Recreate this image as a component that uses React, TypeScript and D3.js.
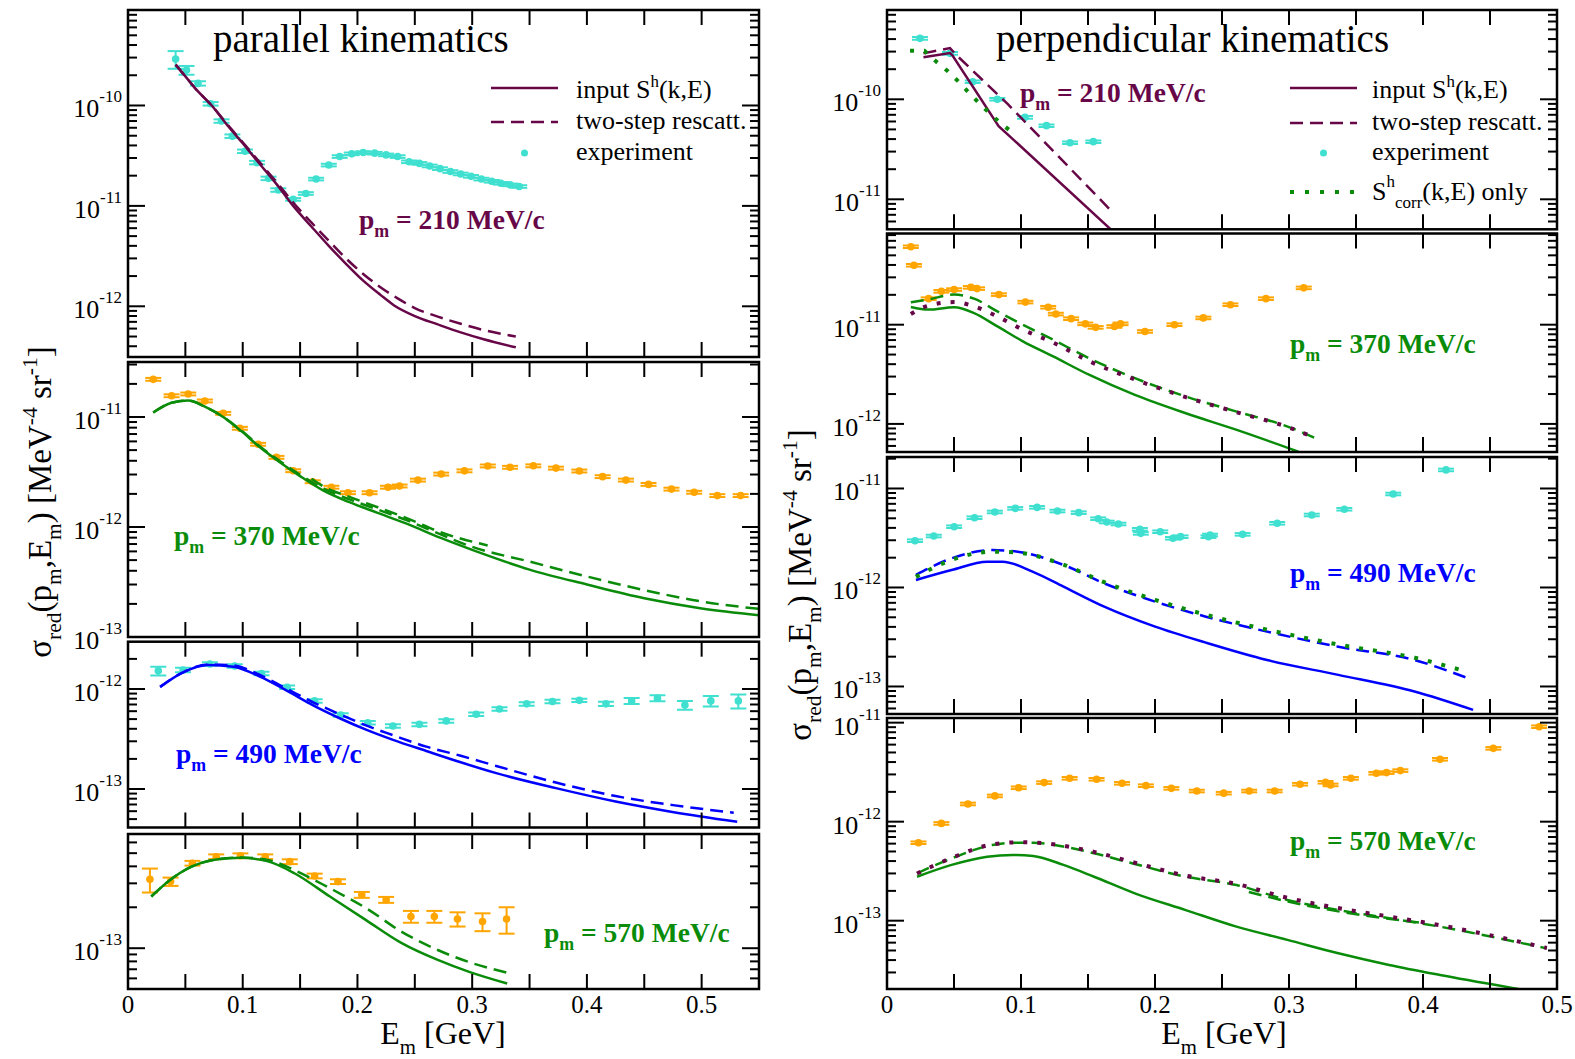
import React from "react";
import * as d3 from "d3";

const FONT = "'Liberation Serif', 'Times New Roman', serif";
const MAROON = "#670748";
const GREEN = "#0a8c0a";
const BLUE = "#0000ff";
const ORANGE = "#ffa500";
const TURQ = "#40e0d0";

type P = [number, number];
type EP = [number, number, number];

// ---------- parallel kinematics ----------
const par210Exp: EP[] = [
  [0.0415, 2.9e-10, 0.2], [0.051, 2.25e-10, 0.1], [0.061, 1.66e-10, 0.05], [0.072, 1.04e-10, 0.04],
  [0.0815, 7.0e-11, 0.04], [0.091, 4.95e-11, 0.04], [0.102, 3.5e-11, 0.04], [0.1125, 2.7e-11, 0.04],
  [0.1225, 1.88e-11, 0.04], [0.131, 1.44e-11, 0.04], [0.144, 1.16e-11, 0.03], [0.155, 1.33e-11, 0.03],
  [0.164, 1.85e-11, 0.03], [0.175, 2.55e-11, 0.03], [0.1845, 3.1e-11, 0.03], [0.195, 3.3e-11, 0.03],
  [0.205, 3.4e-11, 0.03], [0.215, 3.35e-11, 0.03], [0.225, 3.22e-11, 0.03], [0.235, 3.1e-11, 0.03],
  [0.245, 2.75e-11, 0.03], [0.254, 2.65e-11, 0.03], [0.263, 2.5e-11, 0.03], [0.272, 2.35e-11, 0.03],
  [0.281, 2.2e-11, 0.03], [0.29, 2.08e-11, 0.03], [0.299, 1.97e-11, 0.03], [0.308, 1.85e-11, 0.03],
  [0.317, 1.76e-11, 0.03], [0.325, 1.68e-11, 0.03], [0.333, 1.62e-11, 0.03], [0.341, 1.56e-11, 0.03],
];
const par210Solid: P[] = [
  [0.0415, 2.55e-10], [0.05, 1.95e-10], [0.06, 1.42e-10], [0.073, 1.0e-10], [0.085, 6.7e-11], [0.1, 4.2e-11],
  [0.115, 2.6e-11], [0.13, 1.62e-11], [0.144, 1.0e-11], [0.16, 6.2e-12], [0.175, 4.0e-12], [0.19, 2.65e-12],
  [0.205, 1.8e-12], [0.22, 1.3e-12], [0.232, 1.02e-12], [0.25, 8.0e-13], [0.27, 6.6e-13], [0.29, 5.5e-13],
  [0.31, 4.7e-13], [0.338, 3.9e-13],
];
const par210Dash: P[] = [
  [0.0415, 2.55e-10], [0.05, 1.95e-10], [0.06, 1.42e-10], [0.073, 1.0e-10], [0.085, 6.8e-11], [0.1, 4.3e-11],
  [0.115, 2.7e-11], [0.13, 1.7e-11], [0.144, 1.08e-11], [0.16, 6.8e-12], [0.175, 4.5e-12], [0.19, 3.0e-12],
  [0.205, 2.1e-12], [0.22, 1.55e-12], [0.235, 1.2e-12], [0.25, 9.6e-13], [0.27, 7.9e-13], [0.29, 6.7e-13],
  [0.31, 5.8e-13], [0.338, 5.0e-13],
];

const par370Exp: EP[] = [
  [0.022, 2.2e-11, 0.03], [0.038, 1.56e-11, 0.03], [0.0525, 1.62e-11, 0.03], [0.067, 1.4e-11, 0.03],
  [0.083, 1.08e-11, 0.03], [0.0975, 7.9e-12, 0.03], [0.1134, 5.65e-12, 0.03], [0.1294, 4.3e-12, 0.03],
  [0.144, 3.25e-12, 0.03], [0.161, 2.58e-12, 0.03], [0.1773, 2.3e-12, 0.03], [0.1917, 2.05e-12, 0.03],
  [0.2106, 2.05e-12, 0.03], [0.2266, 2.3e-12, 0.03], [0.2367, 2.36e-12, 0.03], [0.2527, 2.67e-12, 0.03],
  [0.273, 3.03e-12, 0.03], [0.2933, 3.24e-12, 0.03], [0.3136, 3.59e-12, 0.03], [0.333, 3.49e-12, 0.03],
  [0.3533, 3.6e-12, 0.03], [0.373, 3.43e-12, 0.03], [0.3934, 3.23e-12, 0.03], [0.4137, 2.87e-12, 0.03],
  [0.434, 2.67e-12, 0.03], [0.4537, 2.44e-12, 0.03], [0.4737, 2.21e-12, 0.03], [0.4935, 2.07e-12, 0.03],
  [0.5137, 1.93e-12, 0.03], [0.534, 1.93e-12, 0.03],
];
const par370Solid: P[] = [
  [0.022, 1.1e-11], [0.038, 1.35e-11], [0.0525, 1.41e-11], [0.067, 1.24e-11], [0.083, 1.0e-11], [0.099, 7.4e-12],
  [0.115, 5.3e-12], [0.132, 3.9e-12], [0.15, 2.9e-12], [0.17, 2.15e-12], [0.193, 1.68e-12], [0.217, 1.35e-12],
  [0.245, 1.05e-12], [0.272, 8.0e-13], [0.3, 6.2e-13], [0.35, 4.1e-13], [0.4, 3.0e-13], [0.45, 2.25e-13],
  [0.5, 1.82e-13], [0.55, 1.58e-13],
];
const par370Dash: P[] = [
  [0.022, 1.1e-11], [0.038, 1.35e-11], [0.0525, 1.41e-11], [0.067, 1.24e-11], [0.083, 1.0e-11], [0.099, 7.5e-12],
  [0.115, 5.4e-12], [0.132, 4.0e-12], [0.15, 2.98e-12], [0.17, 2.25e-12], [0.193, 1.78e-12], [0.217, 1.45e-12],
  [0.245, 1.13e-12], [0.272, 8.6e-13], [0.3, 6.6e-13], [0.35, 4.85e-13], [0.4, 3.55e-13], [0.45, 2.67e-13],
  [0.5, 2.1e-13], [0.55, 1.8e-13],
];
const par370Dash2: P[] = [
  [0.16, 2.75e-12], [0.17, 2.35e-12], [0.193, 1.88e-12], [0.217, 1.52e-12], [0.245, 1.18e-12], [0.272, 9.0e-13],
  [0.3135, 6.8e-13],
];

const par490Exp: EP[] = [
  [0.0264, 1.52e-12, 0.1], [0.048, 1.55e-12, 0.05], [0.0714, 1.78e-12, 0.04], [0.093, 1.7e-12, 0.04],
  [0.1164, 1.43e-12, 0.04], [0.1387, 1.04e-12, 0.04], [0.1627, 7.6e-13, 0.04], [0.1854, 5.5e-13, 0.04],
  [0.209, 4.6e-13, 0.04], [0.2309, 4.26e-13, 0.04], [0.254, 4.43e-13, 0.04], [0.2774, 4.8e-13, 0.04],
  [0.3035, 5.6e-13, 0.04], [0.3238, 6.3e-13, 0.04], [0.3475, 7.1e-13, 0.04], [0.37, 7.5e-13, 0.04],
  [0.3934, 7.7e-13, 0.04], [0.4166, 7.1e-13, 0.05], [0.439, 7.6e-13, 0.07], [0.4615, 8.1e-13, 0.07],
  [0.4854, 6.9e-13, 0.1], [0.508, 7.6e-13, 0.12], [0.532, 7.6e-13, 0.16],
];
const par490Solid: P[] = [
  [0.028, 1.05e-12], [0.048, 1.47e-12], [0.07, 1.74e-12], [0.092, 1.67e-12], [0.115, 1.33e-12], [0.138, 9.7e-13],
  [0.161, 6.9e-13], [0.1845, 5.1e-13], [0.208, 3.9e-13], [0.231, 3.1e-13], [0.26, 2.4e-13], [0.29, 1.85e-13],
  [0.321, 1.44e-13], [0.373, 1.02e-13], [0.425, 7.5e-14], [0.4745, 5.9e-14], [0.531, 4.7e-14],
];
const par490Dash: P[] = [
  [0.028, 1.05e-12], [0.048, 1.47e-12], [0.07, 1.76e-12], [0.092, 1.72e-12], [0.115, 1.38e-12], [0.138, 1.01e-12],
  [0.161, 7.4e-13], [0.1845, 5.6e-13], [0.208, 4.3e-13], [0.231, 3.45e-13], [0.26, 2.65e-13], [0.29, 2.15e-13],
  [0.321, 1.7e-13], [0.373, 1.16e-13], [0.425, 8.5e-14], [0.475, 6.9e-14], [0.528, 5.8e-14],
];

const par570Exp: EP[] = [
  [0.0191, 3.21e-13, 0.2], [0.0371, 3.09e-13, 0.07], [0.0562, 4.22e-13, 0.04], [0.0769, 4.71e-13, 0.04],
  [0.098, 4.79e-13, 0.04], [0.1196, 4.71e-13, 0.04], [0.141, 4.33e-13, 0.04], [0.1627, 3.4e-13, 0.04],
  [0.183, 3.09e-13, 0.04], [0.2038, 2.47e-13, 0.05], [0.225, 2.27e-13, 0.05], [0.2466, 1.71e-13, 0.1],
  [0.267, 1.71e-13, 0.1], [0.2872, 1.64e-13, 0.12], [0.309, 1.57e-13, 0.15], [0.33, 1.64e-13, 0.22],
];
const par570Solid: P[] = [
  [0.0203, 2.4e-13], [0.035, 3.1e-13], [0.0554, 3.98e-13], [0.077, 4.5e-13], [0.098, 4.62e-13], [0.122, 4.35e-13],
  [0.145, 3.56e-13], [0.176, 2.4e-13], [0.2075, 1.61e-13], [0.2386, 1.09e-13], [0.27, 8.2e-14], [0.2974, 6.7e-14],
  [0.3305, 5.5e-14],
];
const par570Dash: P[] = [
  [0.0203, 2.4e-13], [0.035, 3.1e-13], [0.0554, 3.98e-13], [0.077, 4.5e-13], [0.098, 4.65e-13], [0.122, 4.45e-13],
  [0.145, 3.75e-13], [0.176, 2.76e-13], [0.2075, 1.97e-13], [0.2386, 1.32e-13], [0.27, 9.7e-14], [0.2974, 7.9e-14],
  [0.3305, 6.6e-14],
];

// ---------- perpendicular kinematics ----------
const perp210Exp: EP[] = [
  [0.0246, 4.07e-10, 0.03], [0.047, 2.88e-10, 0.03], [0.064, 1.5e-10, 0.03], [0.0823, 1.0e-10, 0.03],
  [0.103, 6.6e-11, 0.03], [0.119, 5.45e-11, 0.03], [0.1366, 3.68e-11, 0.03], [0.154, 3.77e-11, 0.03],
];
const perp210Solid: P[] = [
  [0.0272, 2.63e-10], [0.047, 2.9e-10], [0.0488, 2.75e-10], [0.0833, 5.4e-11], [0.167, 5.0e-12],
];
const perp210Dash: P[] = [
  [0.0272, 2.88e-10], [0.047, 3.25e-10], [0.052, 2.75e-10], [0.09, 9.0e-11], [0.168, 7.5e-12],
];
const perp210Dot: P[] = [
  [0.0172, 3.06e-10], [0.0279, 3.06e-10], [0.0363, 2.41e-10], [0.045, 1.93e-10], [0.053, 1.52e-10],
  [0.061, 1.17e-10], [0.0689, 9.1e-11], [0.0769, 7.2e-11], [0.0848, 5.75e-11], [0.0935, 4.68e-11],
];

const perp370Exp: EP[] = [
  [0.0178, 6.1e-11, 0.03], [0.0201, 3.97e-11, 0.03], [0.0311, 1.83e-11, 0.03], [0.0406, 2.17e-11, 0.03],
  [0.0501, 2.26e-11, 0.03], [0.0626, 2.38e-11, 0.03], [0.0672, 2.31e-11, 0.03], [0.0835, 2.01e-11, 0.03],
  [0.1033, 1.69e-11, 0.03], [0.1203, 1.5e-11, 0.03], [0.126, 1.28e-11, 0.03], [0.1374, 1.15e-11, 0.03],
  [0.148, 1.02e-11, 0.03], [0.1557, 9.4e-12, 0.03], [0.1697, 9.6e-12, 0.03], [0.1743, 1.02e-11, 0.03],
  [0.1925, 8.55e-12, 0.03], [0.2145, 1.0e-11, 0.03], [0.2361, 1.17e-11, 0.03], [0.2563, 1.59e-11, 0.03],
  [0.2828, 1.83e-11, 0.03], [0.311, 2.35e-11, 0.03],
];
const perp370Solid: P[] = [
  [0.0178, 1.51e-11], [0.031, 1.42e-11], [0.05, 1.5e-11], [0.065, 1.31e-11], [0.0824, 9.6e-12], [0.1014, 6.8e-12],
  [0.124, 4.79e-12], [0.1507, 3.13e-12], [0.185, 1.96e-12], [0.223, 1.28e-12], [0.261, 8.7e-13], [0.307, 5.25e-13],
];
const perp370Dash: P[] = [
  [0.0178, 1.68e-11], [0.031, 1.8e-11], [0.05, 2.01e-11], [0.065, 1.83e-11], [0.0824, 1.36e-11], [0.1014, 1.0e-11],
  [0.124, 7.05e-12], [0.1507, 4.6e-12], [0.185, 2.89e-12], [0.223, 1.89e-12], [0.261, 1.33e-12], [0.299, 9.4e-13],
  [0.3197, 7.2e-13],
];
const perp370Dot: P[] = [
  [0.0178, 1.28e-11], [0.029, 1.53e-11], [0.05, 1.69e-11], [0.065, 1.53e-11], [0.0824, 1.21e-11], [0.1014, 8.9e-12],
  [0.124, 6.6e-12], [0.1507, 4.3e-12], [0.185, 2.8e-12], [0.223, 1.86e-12], [0.261, 1.31e-12], [0.299, 9.3e-13],
  [0.3197, 7.2e-13],
];

const perp490Exp: EP[] = [
  [0.0209, 2.97e-12, 0.03], [0.0349, 3.31e-12, 0.03], [0.0501, 4.11e-12, 0.03], [0.0653, 5.07e-12, 0.03],
  [0.0805, 5.79e-12, 0.03], [0.0957, 6.3e-12, 0.03], [0.112, 6.45e-12, 0.03], [0.1272, 5.92e-12, 0.03],
  [0.1431, 5.7e-12, 0.03], [0.1576, 4.95e-12, 0.03], [0.164, 4.59e-12, 0.03], [0.1727, 4.38e-12, 0.03],
  [0.1887, 3.87e-12, 0.03], [0.1894, 3.52e-12, 0.03], [0.2039, 3.66e-12, 0.03], [0.2134, 3.14e-12, 0.03],
  [0.2191, 3.26e-12, 0.03], [0.2399, 3.26e-12, 0.03], [0.2411, 3.39e-12, 0.03], [0.2654, 3.44e-12, 0.03],
  [0.2912, 4.45e-12, 0.03], [0.317, 5.4e-12, 0.03], [0.3413, 6.17e-12, 0.03], [0.3778, 8.8e-12, 0.03],
  [0.4172, 1.54e-11, 0.03],
];
const perp490Solid: P[] = [
  [0.0216, 1.19e-12], [0.0482, 1.5e-12], [0.0748, 1.82e-12], [0.0862, 1.82e-12], [0.109, 1.44e-12], [0.1317, 1.02e-12],
  [0.1621, 6.4e-13], [0.2001, 4.02e-13], [0.238, 2.77e-13], [0.2836, 1.85e-13], [0.3368, 1.31e-13], [0.3937, 8.9e-14],
  [0.4374, 5.8e-14],
];
const perp490Dash: P[] = [
  [0.0216, 1.34e-12], [0.0482, 1.97e-12], [0.0786, 2.39e-12], [0.0976, 2.3e-12], [0.1317, 1.69e-12], [0.1621, 1.1e-12],
  [0.2, 7.2e-13], [0.238, 5.07e-13], [0.2836, 3.58e-13], [0.3368, 2.52e-13], [0.3937, 1.85e-13], [0.4336, 1.21e-13],
];
const perp490Dot: P[] = [
  [0.0216, 1.28e-12], [0.0482, 1.9e-12], [0.0786, 2.3e-12], [0.0976, 2.25e-12], [0.1317, 1.7e-12], [0.1621, 1.13e-12],
  [0.2, 7.5e-13], [0.238, 5.3e-13], [0.2836, 3.75e-13], [0.3368, 2.65e-13], [0.3937, 1.95e-13], [0.4336, 1.4e-13],
];

const perp570Exp: EP[] = [
  [0.0235, 6.13e-13, 0.03], [0.0406, 9.6e-13, 0.03], [0.0604, 1.51e-12, 0.03], [0.0805, 1.82e-12, 0.03],
  [0.0983, 2.2e-12, 0.03], [0.1173, 2.48e-12, 0.03], [0.1363, 2.74e-12, 0.03], [0.1564, 2.68e-12, 0.03],
  [0.1754, 2.44e-12, 0.03], [0.1932, 2.31e-12, 0.03], [0.2122, 2.17e-12, 0.03], [0.2312, 2.04e-12, 0.03],
  [0.2513, 1.94e-12, 0.03], [0.2703, 2.04e-12, 0.03], [0.2893, 2.04e-12, 0.03], [0.3083, 2.39e-12, 0.03],
  [0.3273, 2.5e-12, 0.03], [0.331, 2.35e-12, 0.03], [0.3462, 2.74e-12, 0.03], [0.3652, 3.08e-12, 0.03],
  [0.3728, 3.13e-12, 0.03], [0.3831, 3.28e-12, 0.03], [0.4127, 4.27e-12, 0.03], [0.4525, 5.5e-12, 0.03],
  [0.4867, 9.1e-12, 0.03],
];
const perp570Solid: P[] = [
  [0.0224, 2.78e-13], [0.0482, 3.66e-13], [0.0748, 4.43e-13], [0.0938, 4.61e-13], [0.109, 4.5e-13], [0.1317, 3.66e-13],
  [0.1545, 2.78e-13], [0.1849, 1.89e-13], [0.2229, 1.28e-13], [0.2608, 8.7e-14], [0.2988, 6.4e-14], [0.3368, 4.68e-14],
  [0.3747, 3.57e-14], [0.4127, 2.83e-14], [0.4753, 2.0e-14], [0.5, 1.75e-14],
];
const perp570Dash: P[] = [
  [0.0224, 3.01e-13], [0.0482, 4.26e-13], [0.0786, 5.82e-13], [0.0938, 6.13e-13], [0.109, 6.13e-13], [0.1317, 5.6e-13],
  [0.1545, 4.8e-13], [0.1849, 3.74e-13], [0.2229, 2.78e-13], [0.2608, 2.29e-13], [0.2988, 1.62e-13], [0.3368, 1.28e-13],
  [0.3747, 1.06e-13], [0.4127, 8.7e-14], [0.4506, 6.9e-14], [0.4924, 5.25e-14],
];
const perp570Dash2: P[] = [[0.27, 1.95e-13], [0.3, 1.55e-13], [0.34, 1.22e-13], [0.4, 9.5e-14]];
const perp570Dot: P[] = [
  [0.0224, 3.0e-13], [0.0482, 4.3e-13], [0.0786, 5.9e-13], [0.1, 6.2e-13], [0.12, 6.0e-13], [0.1545, 4.95e-13],
  [0.1849, 3.85e-13], [0.2229, 2.85e-13], [0.2608, 2.35e-13], [0.2988, 1.7e-13], [0.3368, 1.34e-13], [0.3747, 1.1e-13],
  [0.4127, 9.0e-14], [0.4506, 7.1e-14], [0.4924, 5.3e-14],
];

const xTickLabels = [0, 0.1, 0.2, 0.3, 0.4, 0.5];

// ---------- layout / rendering ----------
type Kind = "solid" | "dash" | "dot";
interface LineSpec { data: P[]; color: string; kind: Kind }
interface PanelSpec {
  left: number; right: number; xMax: number;
  top: number; bottom: number; logTop: number; logBot: number;
  lines: LineSpec[];
  exp: { data: EP[]; color: string };
  label: { value: string; color: string; x: number; y: number };
  xLabels?: boolean;
  smooth: boolean;
}

const L = { left: 128, right: 759, xMax: 0.55 };
const R = { left: 887, right: 1557, xMax: 0.5 };

const panels: PanelSpec[] = [
  { ...L, top: 10, bottom: 357, logTop: -9.049, logBot: -12.505, smooth: true,
    lines: [{ data: par210Solid, color: MAROON, kind: "solid" }, { data: par210Dash, color: MAROON, kind: "dash" }],
    exp: { data: par210Exp, color: TURQ }, label: { value: "210", color: MAROON, x: 359, y: 229 } },
  { ...L, top: 362, bottom: 637, logTop: -10.5, logBot: -13, smooth: true,
    lines: [{ data: par370Solid, color: GREEN, kind: "solid" }, { data: par370Dash, color: GREEN, kind: "dash" },
      { data: par370Dash2, color: GREEN, kind: "dash" }],
    exp: { data: par370Exp, color: ORANGE }, label: { value: "370", color: GREEN, x: 174, y: 545 } },
  { ...L, top: 641.7, bottom: 827.5, logTop: -11.527, logBot: -13.385, smooth: true,
    lines: [{ data: par490Solid, color: BLUE, kind: "solid" }, { data: par490Dash, color: BLUE, kind: "dash" }],
    exp: { data: par490Exp, color: TURQ }, label: { value: "490", color: BLUE, x: 176, y: 763 } },
  { ...L, top: 834, bottom: 989, logTop: -12.16, logBot: -13.3, xLabels: true, smooth: true,
    lines: [{ data: par570Solid, color: GREEN, kind: "solid" }, { data: par570Dash, color: GREEN, kind: "dash" }],
    exp: { data: par570Exp, color: ORANGE }, label: { value: "570", color: GREEN, x: 544, y: 942 } },
  { ...R, top: 10, bottom: 229.3, logTop: -9.107, logBot: -11.3, smooth: false,
    lines: [{ data: perp210Solid, color: MAROON, kind: "solid" }, { data: perp210Dash, color: MAROON, kind: "dash" },
      { data: perp210Dot, color: GREEN, kind: "dot" }],
    exp: { data: perp210Exp, color: TURQ }, label: { value: "210", color: MAROON, x: 1020, y: 102 } },
  { ...R, top: 233.5, bottom: 452, logTop: -10.081, logBot: -12.283, smooth: true,
    lines: [{ data: perp370Solid, color: GREEN, kind: "solid" }, { data: perp370Dash, color: GREEN, kind: "dash" },
      { data: perp370Dot, color: MAROON, kind: "dot" }],
    exp: { data: perp370Exp, color: ORANGE }, label: { value: "370", color: GREEN, x: 1290, y: 353 } },
  { ...R, top: 457, bottom: 714, logTop: -10.682, logBot: -13.278, smooth: true,
    lines: [{ data: perp490Solid, color: BLUE, kind: "solid" }, { data: perp490Dash, color: BLUE, kind: "dash" },
      { data: perp490Dot, color: GREEN, kind: "dot" }],
    exp: { data: perp490Exp, color: TURQ }, label: { value: "490", color: BLUE, x: 1290, y: 582 } },
  { ...R, top: 718, bottom: 989, logTop: -10.953, logBot: -13.69, xLabels: true, smooth: true,
    lines: [{ data: perp570Solid, color: GREEN, kind: "solid" }, { data: perp570Dash, color: GREEN, kind: "dash" },
      { data: perp570Dash2, color: GREEN, kind: "dash" }, { data: perp570Dot, color: MAROON, kind: "dot" }],
    exp: { data: perp570Exp, color: ORANGE }, label: { value: "570", color: GREEN, x: 1290, y: 850 } },
];

type Run = { t: string; s?: "sub" | "sup" };
function rich(runs: Run[], size: number, subScale = 0.65) {
  let cur = 0;
  return runs.map((r, i) => {
    const target = r.s === "sub" ? size * 0.3 : r.s === "sup" ? -size * 0.42 : 0;
    const dy = target - cur;
    cur = target;
    return (
      <tspan key={i} dy={dy} fontSize={r.s ? size * subScale : size} style={{ whiteSpace: "pre" }}>
        {r.t}
      </tspan>
    );
  });
}

const DASH: Record<Kind, string | undefined> = { solid: undefined, dash: "13,7", dot: "4,10" };
const WIDTH: Record<Kind, number> = { solid: 2.5, dash: 2.5, dot: 4 };

function Panel({ s, id }: { s: PanelSpec; id: string }) {
  const x = d3.scaleLinear().domain([0, s.xMax]).range([s.left, s.right]);
  const y = d3.scaleLog().domain([Math.pow(10, s.logBot), Math.pow(10, s.logTop)]).range([s.bottom, s.top]);
  const line = d3.line<P>().x((d) => x(d[0])).y((d) => y(d[1])).curve(s.smooth ? d3.curveMonotoneX : d3.curveLinear);
  const yt: { v: number; major: boolean; k: number }[] = [];
  for (let k = Math.floor(s.logBot); k <= Math.ceil(s.logTop); k++) {
    for (let m = 1; m <= 9; m++) {
      const lv = k + Math.log10(m);
      if (lv >= s.logBot - 1e-6 && lv <= s.logTop + 1e-6) yt.push({ v: m * Math.pow(10, k), major: m === 1, k });
    }
  }
  const xt = d3.range(0.05, s.xMax - 1e-6, 0.05);
  const cap = 8;
  return (
    <g>
      <defs>
        <clipPath id={id}>
          <rect x={s.left} y={s.top} width={s.right - s.left} height={s.bottom - s.top} />
        </clipPath>
      </defs>
      <g clipPath={`url(#${id})`}>
        {s.exp.data.map((d, i) => {
          const cx = x(d[0]);
          const lo = y(d[1] * (1 - d[2]));
          const hi = y(d[1] * (1 + d[2]));
          return (
            <g key={i} stroke={s.exp.color} strokeWidth={2}>
              <line x1={cx} x2={cx} y1={lo} y2={hi} />
              <line x1={cx - cap} x2={cx + cap} y1={lo} y2={lo} />
              <line x1={cx - cap} x2={cx + cap} y1={hi} y2={hi} />
              <circle cx={cx} cy={y(d[1])} r={3.8} fill={s.exp.color} stroke="none" />
            </g>
          );
        })}
        {s.lines.map((l, i) => (
          <path key={i} d={line(l.data) || ""} fill="none" stroke={l.color} strokeWidth={WIDTH[l.kind]}
            strokeDasharray={DASH[l.kind]} />
        ))}
      </g>
      <g stroke="#000" strokeWidth={2}>
        {xt.map((v, i) => (
          <g key={i}>
            <line x1={x(v)} x2={x(v)} y1={s.top} y2={s.top + 15} />
            <line x1={x(v)} x2={x(v)} y1={s.bottom} y2={s.bottom - 15} />
          </g>
        ))}
        {yt.map((t, i) => {
          const len = t.major ? 17 : 9;
          return (
            <g key={i}>
              <line x1={s.left} x2={s.left + len} y1={y(t.v)} y2={y(t.v)} />
              <line x1={s.right} x2={s.right - len} y1={y(t.v)} y2={y(t.v)} />
            </g>
          );
        })}
      </g>
      <rect x={s.left} y={s.top} width={s.right - s.left} height={s.bottom - s.top} fill="none" stroke="#000"
        strokeWidth={2.5} />
      {yt.filter((t) => t.major).map((t, i) => (
        <text key={i} x={s.left - 6} y={y(t.v) + 12} textAnchor="end" fontSize={26} fontFamily={FONT}>
          10<tspan dy={-15} fontSize={17}>{`-${Math.abs(t.k)}`}</tspan>
        </text>
      ))}
      {s.xLabels &&
        xTickLabels.map((v, i) => (
          <text key={i} x={x(v)} y={1013} textAnchor="middle" fontSize={25} fontFamily={FONT}>
            {v === 0 ? "0" : v.toFixed(1)}
          </text>
        ))}
      <text x={s.label.x} y={s.label.y} fill={s.label.color} fontWeight="bold" fontFamily={FONT}>
        {rich([{ t: "p" }, { t: "m", s: "sub" }, { t: ` = ${s.label.value} MeV/c` }], 27.5)}
      </text>
    </g>
  );
}

function Legend({ x0, x1, tx, rows, dotted }: { x0: number; x1: number; tx: number; rows: number[]; dotted: boolean }) {
  const fs = 26;
  return (
    <g fontFamily={FONT} fontSize={fs}>
      <line x1={x0} x2={x1} y1={rows[0]} y2={rows[0]} stroke={MAROON} strokeWidth={2.5} />
      <text x={tx} y={rows[0] + 10}>{rich([{ t: "input S" }, { t: "h", s: "sup" }, { t: "(k,E)" }], fs)}</text>
      <line x1={x0} x2={x1} y1={rows[1]} y2={rows[1]} stroke={MAROON} strokeWidth={2.5} strokeDasharray="13,7" />
      <text x={tx} y={rows[1] + 7}>two-step rescatt.</text>
      <circle cx={(x0 + x1) / 2} cy={rows[2]} r={3.5} fill={TURQ} />
      <text x={tx} y={rows[2] + 7}>experiment</text>
      {dotted && (
        <g>
          <line x1={x0} x2={x1} y1={rows[3]} y2={rows[3]} stroke={GREEN} strokeWidth={4} strokeDasharray="4,11" />
          <text x={tx} y={rows[3] + 8}>
            S<tspan dy={-13} fontSize={17}>h</tspan>
            <tspan dy={21} fontSize={17}>corr</tspan>
            <tspan dy={-8}>(k,E) only</tspan>
          </text>
        </g>
      )}
    </g>
  );
}

export default function App() {
  const axisRuns: Run[] = [
    { t: "σ" }, { t: "red", s: "sub" }, { t: "(p" }, { t: "m", s: "sub" }, { t: ",E" }, { t: "m", s: "sub" },
    { t: ") [MeV" }, { t: "-4", s: "sup" }, { t: " sr" }, { t: "-1", s: "sup" }, { t: "]" },
  ];
  const xRuns: Run[] = [{ t: "E" }, { t: "m", s: "sub" }, { t: " [GeV]" }];
  return (
    <svg width={1575} height={1059} style={{ position: "absolute", left: 0, top: 0, background: "#fff" }}
      fontFamily={FONT}>
      <rect x={0} y={0} width={1575} height={1059} fill="#fff" />
      {panels.map((p, i) => (
        <Panel key={i} s={p} id={`clip${i}`} />
      ))}
      <text x={213} y={52} fontSize={39}>parallel kinematics</text>
      <text x={996} y={52} fontSize={39}>perpendicular kinematics</text>
      <Legend x0={491} x1={558} tx={576} rows={[88, 122, 153]} dotted={false} />
      <Legend x0={1290} x1={1357} tx={1372} rows={[88, 123, 153, 192]} dotted={true} />
      <text x={443} y={1044} textAnchor="middle">{rich(xRuns, 32)}</text>
      <text x={1224} y={1044} textAnchor="middle">{rich(xRuns, 32)}</text>
      <text transform="translate(51,502) rotate(-90)" textAnchor="middle">{rich(axisRuns, 33)}</text>
      <text transform="translate(811,585) rotate(-90)" textAnchor="middle">{rich(axisRuns, 33)}</text>
    </svg>
  );
}
